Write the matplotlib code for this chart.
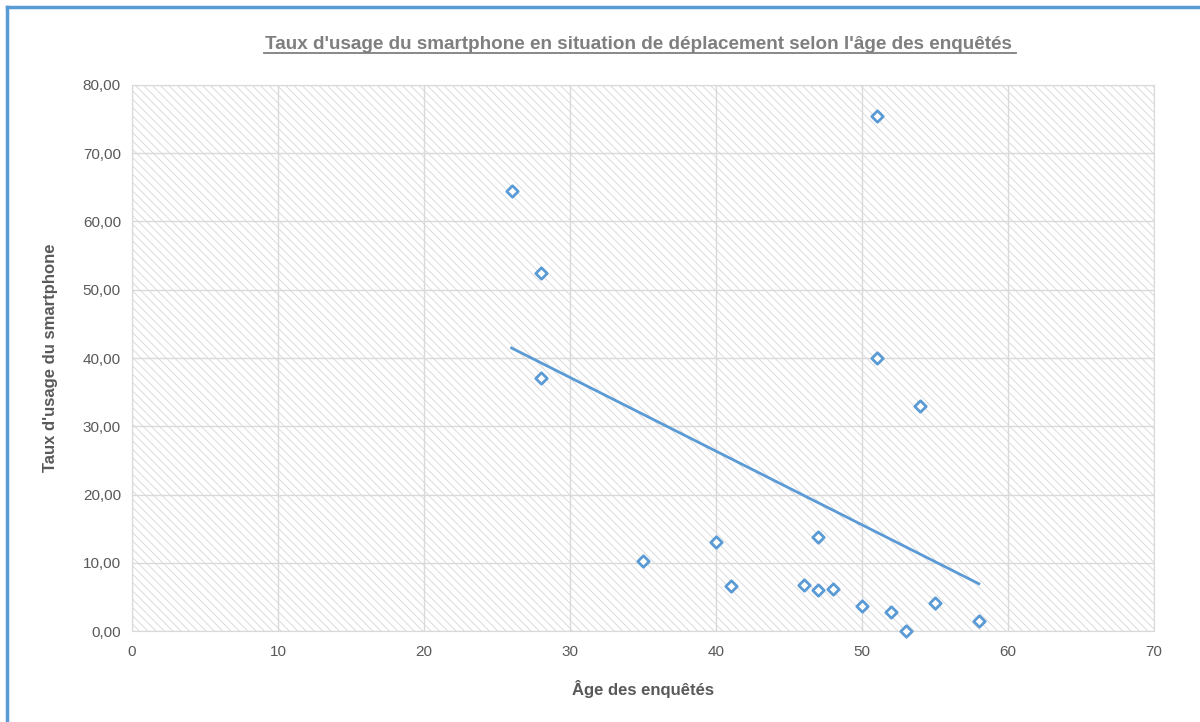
import matplotlib.pyplot as plt
import numpy as np
from matplotlib.lines import Line2D
from matplotlib.patches import Rectangle

# age of respondents and smartphone usage rate while travelling
ages = [26, 28, 28, 35, 40, 41, 46, 47, 47, 48, 50, 51, 51, 52, 53, 54, 55, 58]
usage = [64.5, 52.5, 37.1, 10.2, 13.1, 6.6, 6.7, 13.8, 6.0, 6.2,
         3.7, 75.4, 40.0, 2.8, 0.0, 33.0, 4.1, 1.5]

x_ticks = [0, 10, 20, 30, 40, 50, 60, 70]
y_ticks = [0, 10, 20, 30, 40, 50, 60, 70, 80]

title = "Taux d'usage du smartphone en situation de déplacement selon l'âge des enquêtés"
x_label = "Âge des enquêtés"
y_label = "Taux d'usage du smartphone"

BLUE = "#5b9bd5"
GRID = "#d9d9d9"
TEXT = "#595959"

plt.rcParams["font.family"] = ["Liberation Sans", "DejaVu Sans"]
plt.rcParams["hatch.linewidth"] = 0.6

fig = plt.figure(figsize=(12, 7.22), dpi=100)
ax = fig.add_axes([0.110, 0.126, 0.8517, 0.7563])

# hatched plot area like the Excel pattern fill
ax.patch.set_facecolor("white")
ax.add_patch(Rectangle((0, 0), 1, 1, transform=ax.transAxes, facecolor="white",
                       edgecolor="#d6d6d6", hatch="\\\\\\\\", linewidth=0, zorder=0))

ax.set_xlim(0, 70)
ax.set_ylim(0, 80)
ax.set_xticks(x_ticks)
ax.set_yticks(y_ticks)
ax.set_yticklabels([f"{v:.2f}".replace(".", ",") for v in y_ticks])
ax.grid(True, color=GRID, linewidth=1.0, zorder=1)
ax.set_axisbelow(True)
for spine in ax.spines.values():
    spine.set_color(GRID)
ax.tick_params(length=0, labelsize=11, colors=TEXT, pad=8)
ax.tick_params(axis="x", pad=10)

ax.scatter(ages, usage, marker="D", s=34, facecolor="white", edgecolor=BLUE,
           linewidths=2, zorder=4, clip_on=False)

# linear trend line
slope, intercept = np.polyfit(ages, usage, 1)
xs = np.array([min(ages), max(ages)])
ax.plot(xs, slope * xs + intercept, color=BLUE, linewidth=2, zorder=3)

fig.text(0.532, 0.939, title, ha="center", va="center", fontsize=13.6,
         fontweight="bold", color="#7f7f7f",
         family=["Liberation Sans Narrow", "Liberation Sans", "DejaVu Sans"])
fig.add_artist(Line2D([0.220, 0.847], [0.927, 0.927], color="#7f7f7f", linewidth=1.3))

ax.set_xlabel(x_label, fontsize=12, fontweight="bold", color=TEXT, labelpad=15)
ax.set_ylabel(y_label, fontsize=12, fontweight="bold", color=TEXT, labelpad=18)

# chart frame (top and left edges visible)
fig.add_artist(Line2D([0.006, 1.0], [0.990, 0.990], color=BLUE, linewidth=2.5))
fig.add_artist(Line2D([0.006, 0.006], [0.0, 0.990], color=BLUE, linewidth=2.5))

fig.savefig("out.png", dpi=100)
